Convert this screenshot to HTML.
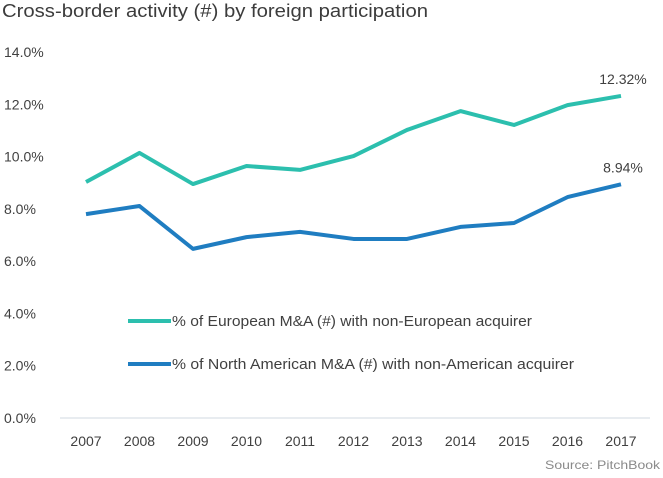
<!DOCTYPE html>
<html><head><meta charset="utf-8"><style>
body{margin:0;background:#fff;font-family:"Liberation Sans",sans-serif;}
svg text{font-family:"Liberation Sans",sans-serif;}
</style></head><body>
<svg width="663" height="473">
<text x="2" y="17" font-size="18" fill="#3c3c3c" textLength="426" lengthAdjust="spacingAndGlyphs">Cross-border activity (#) by foreign participation</text>
<g id="yaxis"></g>
<g id="xaxis"></g>
<line x1="60" x2="650" y1="418" y2="418" stroke="#d0d8e0" stroke-width="1"/>
<g id="series"></g>
<g>
<line x1="128" x2="171" y1="321" y2="321" stroke="#2cbfae" stroke-width="4"/>
<text x="172" y="326" font-size="15" fill="#404040" textLength="360" lengthAdjust="spacingAndGlyphs">% of European M&amp;A (#) with non-European acquirer</text>
<line x1="128" x2="171" y1="364" y2="364" stroke="#1f7dc1" stroke-width="4"/>
<text x="172" y="369" font-size="15" fill="#404040" textLength="402" lengthAdjust="spacingAndGlyphs">% of North American M&amp;A (#) with non-American acquirer</text>
</g>
<text x="660" y="469" font-size="12" fill="#8a8a8a" text-anchor="end" textLength="115" lengthAdjust="spacingAndGlyphs">Source: PitchBook</text>
</svg>
<script>
const years=["2007","2008","2009","2010","2011","2012","2013","2014","2015","2016","2017"];
const europe=[9.03,10.14,8.95,9.64,9.49,10.02,11.02,11.74,11.21,11.97,12.32];
const northAmerica=[7.8,8.11,6.47,6.92,7.12,6.85,6.85,7.31,7.46,8.45,8.94];
const yTicks=[0,2,4,6,8,10,12,14];
const NS="http://www.w3.org/2000/svg";
const x=i=>86+i*53.5;
const y=v=>418-v*26.14;
function mk(t,a,p){const e=document.createElementNS(NS,t);for(const k in a)e.setAttribute(k,a[k]);p.appendChild(e);return e;}
const ya=document.getElementById('yaxis');
yTicks.forEach(v=>{const t=mk('text',{x:4,y:y(v)+5,'font-size':14,fill:'#404040'},ya);t.textContent=v.toFixed(1)+'%';

});
const xa=document.getElementById('xaxis');
years.forEach((yr,i)=>{const t=mk('text',{x:x(i),y:446,'font-size':14,fill:'#404040','text-anchor':'middle'},xa);t.textContent=yr;

});
const s=document.getElementById('series');
function line(d,c,name){const p=mk('polyline',{points:d.map((v,i)=>x(i)+','+y(v)).join(' '),fill:'none',stroke:c,'stroke-width':4,'stroke-linejoin':'round'},s);


const l=mk('text',{x:x(d.length-1)+2,y:y(d[d.length-1])-12,'font-size':14,fill:'#404040','text-anchor':'middle'},s);
l.textContent=d[d.length-1].toFixed(2)+'%';

}
line(europe,'#2cbfae','europe-line');
line(northAmerica,'#1f7dc1','north-america-line');
</script>
</body></html>
